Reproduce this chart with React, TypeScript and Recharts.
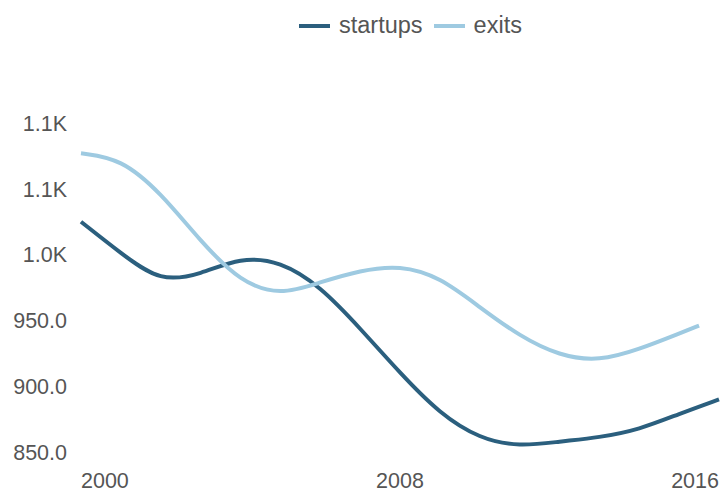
import { LineChart, Line, XAxis, YAxis, Legend } from 'recharts';

const YEARS = [2000, 2001, 2002, 2003, 2004, 2005, 2006, 2007, 2008, 2009, 2010, 2011, 2012, 2013, 2014, 2015, 2016];
const STARTUPS = [1025, 1001, 979, 985, 998, 995, 976, 944, 910, 879, 860, 854, 858, 861, 867, 879, 890];

const EXIT_YEARS = [2000, 2001, 2002, 2003, 2004, 2005, 2006, 2007, 2008, 2009, 2010, 2011, 2012, 2013, 2014, 2015, 2015.5];
const EXITS = [1077, 1073, 1047, 1010, 979, 969, 979, 988, 992, 983, 960, 938, 923, 919, 928, 940, 946];

const X_TICKS = [2000, 2008, 2016];
const Y_TICKS = [850, 900, 950, 1000, 1050, 1100];

const DARK = '#2b5f7e';
const LIGHT = '#9ecae1';
const TEXT = '#555555';
const FONT = '"Liberation Sans", Arial, sans-serif';

const startupsData = YEARS.map((year, i) => ({ year, value: STARTUPS[i] }));
const exitsData = EXIT_YEARS.map((year, i) => ({ year, value: EXITS[i] }));

const formatY = (v: number) => (v >= 1000 ? `${(v / 1000).toFixed(1)}K` : v.toFixed(1));

function XTick({ x, y, payload, index }: any) {
  const anchor = index === 0 ? 'start' : index === X_TICKS.length - 1 ? 'end' : 'middle';
  return (
    <text x={x} y={y} dy={36} textAnchor={anchor} fill={TEXT} fontSize={21.5} fontFamily={FONT}>
      {payload.value}
    </text>
  );
}

function YTick({ x, y, payload }: any) {
  return (
    <text x={x} y={y} dy="0.36em" textAnchor="end" fill={TEXT} fontSize={21.5} fontFamily={FONT}>
      {formatY(payload.value)}
    </text>
  );
}

function LegendContent() {
  const items = [
    { label: 'startups', color: DARK },
    { label: 'exits', color: LIGHT },
  ];
  return (
    <div style={{ display: 'flex', alignItems: 'center', fontFamily: FONT, fontSize: 23.5, color: TEXT, whiteSpace: 'nowrap' }}>
      {items.map((it, i) => (
        <div key={it.label} style={{ display: 'flex', alignItems: 'center', marginLeft: i === 0 ? 0 : 11 }}>
          <span style={{ display: 'inline-block', width: 31, height: 4, background: it.color, marginRight: 9 }} />
          <span>{it.label}</span>
        </div>
      ))}
    </div>
  );
}

export default function App() {
  return (
    <div style={{ position: 'absolute', left: 0, top: 0, width: 721, height: 492, background: '#fff' }}>
      <LineChart width={721} height={492} margin={{ top: 123, right: 2, bottom: 0, left: 0 }}>
        <XAxis
          dataKey="year"
          type="number"
          domain={[2000, 2016]}
          ticks={X_TICKS}
          interval={0}
          axisLine={false}
          tickLine={false}
          tickSize={0}
          tickMargin={0}
          height={40}
          tick={<XTick />}
        />
        <YAxis
          type="number"
          domain={[850, 1100]}
          ticks={Y_TICKS}
          interval={0}
          axisLine={false}
          tickLine={false}
          tickSize={0}
          tickMargin={14}
          width={81}
          tick={<YTick />}
        />
        <Legend
          layout="horizontal"
          verticalAlign="middle"
          align="center"
          content={<LegendContent />}
          wrapperStyle={{ top: 12, left: 299, width: 'auto', height: 'auto' }}
        />
        <Line
          data={startupsData}
          dataKey="value"
          name="startups"
          type="basis"
          stroke={DARK}
          strokeWidth={4}
          dot={false}
          activeDot={false}
          isAnimationActive={false}
        />
        <Line
          data={exitsData}
          dataKey="value"
          name="exits"
          type="basis"
          stroke={LIGHT}
          strokeWidth={4}
          dot={false}
          activeDot={false}
          isAnimationActive={false}
        />
      </LineChart>
    </div>
  );
}
